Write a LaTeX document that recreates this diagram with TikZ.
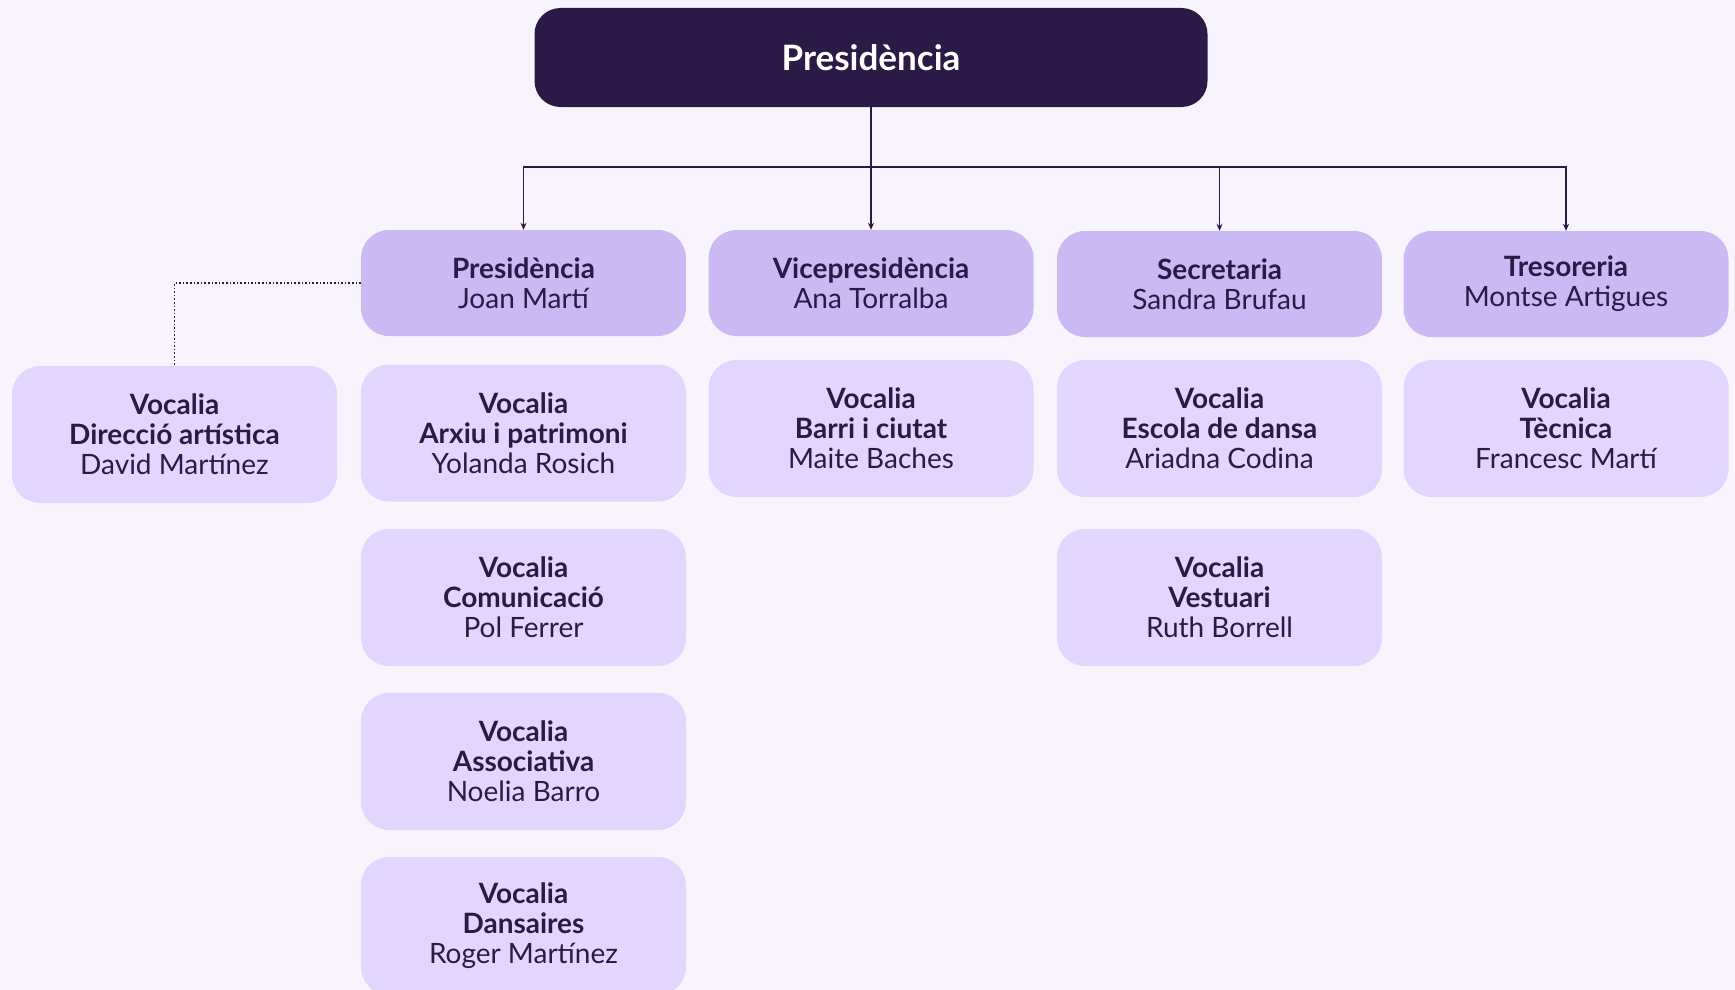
\documentclass[tikz,border=0pt]{standalone}
\usepackage{fontspec}
\setmainfont{Lato}
\usetikzlibrary{arrows.meta}
\definecolor{fonscolor}{HTML}{F7F4FE}
\definecolor{foscolor}{HTML}{2A1A45}
\definecolor{carreccolor}{HTML}{CBB9F4}
\definecolor{vocaliacolor}{HTML}{E3D6FE}
\tikzset{
  capcaixa/.style={rounded corners=26pt, fill=foscolor, text=white, minimum width=673pt,
    minimum height=99pt, font=\fontsize{35}{38}\selectfont\bfseries},
  carrec/.style={rounded corners=28pt, fill=carreccolor, text=foscolor, minimum width=325pt,
    minimum height=106pt, align=center, font=\fontsize{28}{30}\selectfont},
  vocalia/.style={rounded corners=28pt, fill=vocaliacolor, text=foscolor, minimum width=325pt,
    minimum height=137pt, align=center, font=\fontsize{28}{30}\selectfont},
  fletxa/.style={draw=foscolor, line width=1.6pt, -{Stealth[length=7pt,width=6pt]}},
  punts/.style={draw=foscolor, line width=1.6pt, dotted}
}

\begin{document}
\begin{tikzpicture}[x=1pt,y=-1pt]
\fill[fonscolor] (0,0) rectangle (1735,990);
\useasboundingbox (0,0) rectangle (1735,990);

% cap
\node[capcaixa] (presi) at (871,57.5) {Presidència};
\coordinate (bus) at (871,167);

% carrecs
\node[carrec] (presidencia) at (523.5,283) {\textbf{Presidència}\\Joan Martí};
\node[carrec] (vice) at (871,283) {\textbf{Vicepresidència}\\Ana Torralba};
\node[carrec] (secretaria) at (1219.5,284) {\textbf{Secretaria}\\Sandra Brufau};
\node[carrec] (tresoreria) at (1566,284) {\textbf{Tresoreria}\\Montse Artigues};

% vocalies
\node[vocalia] (direccio) at (174.5,434.5) {\textbf{Vocalia}\\\textbf{Direcció artística}\\David Martínez};
\node[vocalia] (arxiu) at (523.5,433) {\textbf{Vocalia}\\\textbf{Arxiu i patrimoni}\\Yolanda Rosich};
\node[vocalia] (comunicacio) at (523.5,597.5) {\textbf{Vocalia}\\\textbf{Comunicació}\\Pol Ferrer};
\node[vocalia] (associativa) at (523.5,761.5) {\textbf{Vocalia}\\\textbf{Associativa}\\Noelia Barro};
\node[vocalia, minimum height=138pt] (dansaires) at (523.5,926) {\textbf{Vocalia}\\\textbf{Dansaires}\\Roger Martínez};
\node[vocalia] (barri) at (871,428.5) {\textbf{Vocalia}\\\textbf{Barri i ciutat}\\Maite Baches};
\node[vocalia] (escola) at (1219.5,428.5) {\textbf{Vocalia}\\\textbf{Escola de dansa}\\Ariadna Codina};
\node[vocalia] (vestuari) at (1219.5,597.5) {\textbf{Vocalia}\\\textbf{Vestuari}\\Ruth Borrell};
\node[vocalia] (tecnica) at (1566,428.5) {\textbf{Vocalia}\\\textbf{Tècnica}\\Francesc Martí};

% connexions
\draw[fletxa] (presi.south) -- (bus) -| (presidencia.north);
\draw[fletxa] (presi.south) -- (vice.north);
\draw[fletxa] (presi.south) -- (bus) -| (secretaria.north);
\draw[fletxa] (presi.south) -- (bus) -| (tresoreria.north);
\draw[punts] (presidencia.west) -| (direccio.north);
\end{tikzpicture}
\end{document}
